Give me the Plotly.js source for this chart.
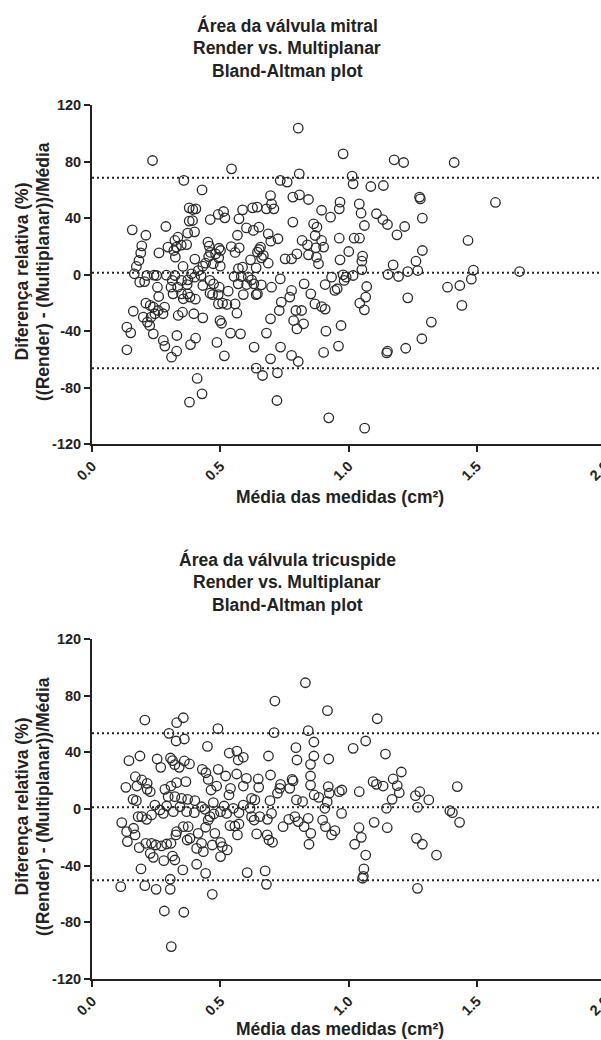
<!DOCTYPE html>
<html>
<head>
<meta charset="utf-8">
<script src="https://cdn.plot.ly/plotly-3.0.1.min.js"></script>
<style>
html, body { margin: 0; padding: 0; overflow: hidden; background: #fff; }
#chart { width: 612px; height: 1040px; }
</style>
</head>
<body>
<div id="chart"></div>
<script>
// ---- Data: Área da válvula mitral ----
const mitralAvg = [0.236,0.544,0.358,0.734,0.761,0.808,0.429,0.696,0.783,0.809,0.844,0.895,0.930,0.379,0.393,0.405,0.626,0.644,0.680,0.700,0.709,0.513,0.492,0.518,0.461,0.587,0.573,0.157,0.210,0.288,0.379,0.392,0.373,0.400,0.335,0.323,0.348,0.329,0.319,0.325,0.296,0.369,0.602,0.629,0.651,0.567,0.687,0.725,0.697,0.783,0.819,0.864,0.877,0.870,0.895,0.903,0.840,0.873,0.799,0.844,0.875,0.883,0.778,0.753,0.194,0.190,0.261,0.183,0.173,0.165,0.186,0.205,0.214,0.242,0.252,0.255,0.260,0.290,0.323,0.452,0.457,0.495,0.501,0.462,0.482,0.494,0.455,0.401,0.443,0.473,0.500,0.432,0.414,0.388,0.425,0.400,0.374,0.371,0.355,0.349,0.334,0.313,0.308,0.316,0.349,0.373,0.382,0.403,0.356,0.460,0.432,0.474,0.496,0.460,0.470,0.492,0.531,0.509,0.526,0.493,0.543,0.574,0.558,0.618,0.657,0.652,0.645,0.661,0.668,0.687,0.640,0.587,0.571,0.554,0.582,0.609,0.622,0.631,0.660,0.640,0.645,0.603,0.570,0.590,0.558,0.565,0.700,0.734,0.778,0.771,0.738,0.730,0.696,0.795,0.817,0.786,0.825,0.799,0.827,0.853,0.869,0.895,0.909,0.909,0.934,0.210,0.227,0.239,0.230,0.245,0.258,0.277,0.283,0.200,0.216,0.225,0.239,0.161,0.136,0.151,0.136,0.278,0.284,0.331,0.330,0.310,0.353,0.336,0.397,0.432,0.499,0.505,0.404,0.384,0.487,0.516,0.540,0.579,0.632,0.680,0.696,0.735,0.778,0.804,0.903,0.912,0.640,0.665,0.723,0.410,0.380,0.429,0.721,0.979,1.178,1.215,1.412,1.014,1.018,1.087,1.136,1.277,1.280,1.573,0.967,0.964,1.042,1.049,1.109,1.134,1.152,1.062,1.219,1.288,1.189,0.964,1.022,1.043,1.466,1.001,0.967,1.055,1.052,1.288,1.174,1.263,1.052,1.231,1.270,1.154,1.195,1.487,1.479,1.667,1.386,1.434,1.442,0.979,1.018,0.991,0.983,0.947,0.956,1.071,1.067,1.044,1.062,1.231,0.971,1.323,1.286,0.961,1.152,1.149,1.223,0.804,0.923,1.063];
const mitralDiff = [80.7,74.8,66.6,66.6,65.4,71.3,59.9,55.9,54.8,56.4,53.1,45.5,40.6,47.2,46.0,46.5,47.2,47.7,46.5,50.0,46.5,44.6,42.5,40.1,38.9,45.8,39.4,31.6,27.8,34.0,37.8,38.2,29.3,30.2,26.4,24.1,20.8,19.4,17.0,12.3,19.4,21.2,33.0,31.2,33.5,27.8,28.8,25.3,23.6,37.1,24.1,35.9,33.5,27.6,24.1,19.4,21.0,18.9,14.6,13.9,12.3,7.6,11.1,11.1,20.3,15.3,15.3,9.9,5.7,0.5,-5.4,-5.0,-0.7,-0.5,-0.7,-9.0,-15.6,-0.5,-0.7,22.9,20.1,18.6,17.0,15.6,14.6,11.8,12.7,10.9,8.0,7.6,5.9,5.9,2.8,0.5,-0.7,-1.9,-3.8,-7.1,5.7,-4.2,-9.0,-4.2,-9.0,-13.7,-13.7,-13.7,-16.0,-17.5,-17.2,-4.2,-7.8,-6.6,-9.0,-13.2,-14.2,-14.2,-11.8,-20.3,-21.2,-20.8,19.8,18.9,15.6,10.4,19.4,17.7,15.8,11.8,13.5,8.0,4.7,5.2,4.2,-1.4,-1.4,-1.9,-3.8,-6.6,-7.3,-14.2,-13.7,-7.1,-6.6,-14.2,-20.8,-27.4,-9.0,-3.1,-11.3,-16.0,-19.6,-25.5,-31.4,-25.5,-25.5,-32.6,-34.9,-38.5,-6.6,-13.7,-20.8,-22.7,-24.5,-7.1,-1.9,-20.3,-21.9,-23.1,-30.2,-27.8,-25.5,-27.8,-23.1,-30.2,-33.7,-36.1,-42.0,-26.0,-37.3,-41.3,-53.3,-46.7,-50.7,-43.2,-54.3,-58.5,-26.7,-29.0,-27.8,-30.7,-32.6,-34.5,-45.1,-49.6,-48.1,-57.6,-41.5,-42.0,-51.4,-41.5,-59.7,-51.4,-57.3,-61.6,-55.2,-40.1,-66.3,-71.5,-69.6,-73.6,-90.4,-84.5,-89.2,85.4,81.2,79.3,79.3,69.6,64.2,62.3,63.0,54.8,53.5,51.0,51.2,46.5,50.0,43.4,43.0,38.9,35.4,34.7,34.0,39.9,28.1,25.7,25.7,25.7,24.1,16.3,10.4,13.0,9.4,17.0,6.8,9.4,3.5,2.1,2.8,0.0,-1.4,3.1,-3.3,2.1,-9.0,-7.8,-21.9,-0.2,-0.7,-1.9,-4.2,-11.3,-10.1,-8.5,-16.0,-20.3,-25.0,-16.5,-36.1,-33.7,-45.5,-50.7,-54.3,-55.5,-52.2,103.6,-101.5,-108.8];
// bias and limits of agreement: [upper, mean, lower]
const mitralLimits = [68.5, 1.2, -66.3];

// ---- Data: Área da válvula tricuspide ----
const tricAvg = [0.832,0.713,0.918,0.206,0.330,0.356,0.491,0.300,0.710,0.843,0.328,0.360,0.450,0.865,0.795,0.535,0.565,0.570,0.590,0.688,0.799,0.865,0.923,0.852,0.144,0.187,0.254,0.268,0.306,0.314,0.323,0.340,0.360,0.380,0.169,0.132,0.175,0.194,0.215,0.215,0.160,0.173,0.227,0.284,0.308,0.330,0.366,0.297,0.323,0.349,0.373,0.430,0.444,0.453,0.464,0.486,0.492,0.521,0.540,0.534,0.564,0.590,0.602,0.648,0.650,0.696,0.694,0.735,0.732,0.723,0.771,0.780,0.784,0.821,0.797,0.852,0.852,0.866,0.884,0.921,0.925,0.917,0.908,0.401,0.427,0.473,0.515,0.590,0.616,0.622,0.635,0.245,0.265,0.232,0.213,0.194,0.180,0.278,0.291,0.317,0.343,0.369,0.399,0.440,0.460,0.475,0.501,0.525,0.551,0.573,0.622,0.632,0.654,0.684,0.700,0.745,0.767,0.791,0.804,0.827,0.843,0.853,0.846,0.899,0.910,0.934,0.116,0.135,0.162,0.168,0.138,0.184,0.210,0.232,0.249,0.271,0.291,0.308,0.227,0.239,0.280,0.314,0.323,0.330,0.327,0.375,0.371,0.356,0.382,0.408,0.427,0.434,0.414,0.443,0.453,0.479,0.469,0.501,0.508,0.501,0.527,0.538,0.557,0.573,0.567,0.642,0.683,0.690,0.704,0.408,0.443,0.191,0.354,0.605,0.675,0.305,0.680,0.112,0.206,0.250,0.305,0.469,0.282,0.358,0.309,1.112,1.018,1.067,1.144,1.206,1.174,1.190,1.198,1.170,1.096,1.109,1.135,1.042,0.974,0.964,1.261,1.278,1.313,1.424,1.269,1.148,1.395,1.405,1.433,1.100,1.151,1.041,1.050,1.024,1.067,1.060,1.055,1.058,1.265,1.288,1.343,1.269,0.973,0.947];
const tricDiff = [89.1,76.2,69.4,62.8,60.9,64.4,56.7,53.4,53.9,55.3,48.0,49.4,44.2,47.3,43.3,39.5,40.9,34.6,36.5,37.4,34.6,37.4,35.3,31.5,34.1,37.4,35.3,29.4,36.0,34.1,31.3,29.4,33.9,31.8,22.8,15.3,16.2,20.5,18.1,13.9,6.8,5.9,12.2,13.9,16.2,18.6,19.3,8.7,8.7,7.5,6.8,28.0,25.6,20.9,13.4,16.2,28.0,23.3,14.6,9.9,24.7,16.2,21.6,21.2,15.3,24.0,5.9,17.4,14.6,11.1,14.6,20.9,19.8,5.2,6.4,23.3,16.9,9.9,8.2,15.8,11.1,5.2,0.5,5.9,1.6,4.5,2.1,2.8,0.5,7.5,6.4,2.8,-0.7,-4.2,-7.3,-5.4,-5.4,-3.1,2.1,-1.9,1.6,-1.9,-2.6,-0.2,-5.4,-3.5,-1.9,-3.1,0.5,-2.6,-5.4,-7.8,-5.4,-7.3,-3.1,-12.5,-7.3,-5.4,-8.9,-12.5,-6.6,-17.2,-24.9,-7.8,-12.5,-18.3,-9.6,-16.0,-13.6,-18.3,-23.0,-27.3,-24.2,-24.2,-25.4,-26.1,-24.7,-24.2,-31.3,-34.1,-36.5,-33.2,-36.0,-16.0,-18.3,-12.5,-21.9,-12.5,-20.7,-27.8,-24.2,-30.1,-17.2,-12.9,-7.8,-17.2,-25.4,-23.5,-26.6,-33.6,-28.9,-11.8,-12.0,-10.6,-18.3,-17.6,-18.3,-21.9,-23.5,-39.0,-45.4,-42.3,-43.0,-44.9,-43.7,-49.6,-53.2,-54.8,-54.1,-56.7,-56.7,-60.2,-72.0,-72.9,-97.1,63.7,42.8,48.0,38.8,26.1,21.2,16.5,11.5,6.8,19.3,17.4,16.2,12.2,13.4,12.2,9.4,12.2,6.4,15.8,1.2,0.5,-1.2,-2.6,-9.4,-9.4,-13.2,-13.2,-20.0,-24.9,-32.5,-42.3,-48.9,-47.5,-20.7,-24.9,-32.5,-56.0,-3.1,-15.3];
const tricLimits = [53.4, 1.2, -50.3];

// ---- Tick labels and text ----
const xTickVals = [0, 0.5, 1.0, 1.5, 2.0];
const xTickLabels = ["0.0", "0.5", "1.0", "1.5", "2.0"];
const yTickVals = [-120, -80, -40, 0, 40, 80, 120];
const yTickLabels = ["-120", "-80", "-40", "0", "40", "80", "120"];
const xRange = [0, 2.0];
const yRange = [-120, 120];
const titleMitral = ["Área da válvula mitral", "Render vs. Multiplanar", "Bland-Altman plot"];
const titleTric = ["Área da válvula tricuspide", "Render vs. Multiplanar", "Bland-Altman plot"];
const xTitle = "Média das medidas (cm²)";
const yTitle1 = "Diferença relativa (%)";
const yTitle2 = "((Render) - (Multiplanar))/Média";

// ---- Figure ----
const W = 612, H = 1040, ML = 92, MR = 7;
const FONT = "'Liberation Sans', Arial, sans-serif";
const INK = "#222";
const px2x = p => (p - ML) / (W - ML - MR);
const py2y = p => 1 - p / H;

function markers(x, y, xa, ya) {
  return { type: "scatter", mode: "markers", x: x, y: y, xaxis: xa, yaxis: ya,
    marker: { symbol: "circle-open", size: 9.5, color: "#2a2a2a", line: { width: 1.3 } },
    hoverinfo: "x+y", showlegend: false };
}
function limitLines(lims, xa, ya) {
  return lims.map(v => ({ type: "scatter", mode: "lines", x: [xRange[0], xRange[1]], y: [v, v],
    xaxis: xa, yaxis: ya, line: { color: INK, width: 2, dash: "2px,3px" }, hoverinfo: "skip", showlegend: false }));
}

const traces = [
  ...limitLines(mitralLimits, "x", "y"),
  markers(mitralAvg, mitralDiff, "x", "y"),
  ...limitLines(tricLimits, "x2", "y2"),
  markers(tricAvg, tricDiff, "x2", "y2")
];

function xAxis(anchor) {
  return { anchor: anchor, domain: [0, 1], range: xRange, tickvals: xTickVals, ticktext: xTickLabels,
    tickangle: -45, ticks: "outside", ticklen: 6, tickwidth: 2, tickcolor: INK, ticklabeloverflow: "allow",
    showline: true, linewidth: 2, linecolor: INK, showgrid: false, zeroline: false,
    tickfont: { family: FONT, size: 14.5, color: INK, weight: "bold" } };
}
function yAxis(anchor, top, bottom) {
  return { anchor: anchor, domain: [py2y(bottom), py2y(top)], range: yRange, tickvals: yTickVals, ticktext: yTickLabels,
    ticks: "outside", ticklen: 6, tickwidth: 2, tickcolor: INK,
    showline: true, linewidth: 2, linecolor: INK, showgrid: false, zeroline: false,
    tickfont: { family: FONT, size: 14.5, color: INK, weight: "bold" } };
}

function titleAnns(lines, yStart) {
  return lines.map((t, i) => ({ text: t, xref: "paper", yref: "paper", x: px2x(287), y: py2y(yStart + 23 * i),
    xanchor: "center", yanchor: "middle", showarrow: false,
    font: { family: FONT, size: 17.5, color: INK, weight: "bold" } }));
}
function axisAnns(xTitleY, yCenter) {
  const f = { family: FONT, size: 17.5, color: INK, weight: "bold" };
  return [
    { text: xTitle, xref: "paper", yref: "paper", x: px2x(340), y: py2y(xTitleY), xanchor: "center", yanchor: "middle", showarrow: false, font: f },
    { text: yTitle1, xref: "paper", yref: "paper", x: px2x(21.5), y: py2y(yCenter), xanchor: "center", yanchor: "middle", textangle: -90, showarrow: false, font: f },
    { text: yTitle2, xref: "paper", yref: "paper", x: px2x(43), y: py2y(yCenter), xanchor: "center", yanchor: "middle", textangle: -90, showarrow: false, font: f }
  ];
}

const layout = {
  width: W, height: H,
  margin: { l: ML, r: MR, t: 0, b: 0, pad: 0 },
  paper_bgcolor: "#fff", plot_bgcolor: "#fff",
  font: { family: FONT, color: INK },
  xaxis: xAxis("y"), yaxis: yAxis("x", 105, 444),
  xaxis2: xAxis("y2"), yaxis2: yAxis("x2", 639, 979),
  annotations: [
    ...titleAnns(titleMitral, 25),
    ...titleAnns(titleTric, 559),
    ...axisAnns(497, 272),
    ...axisAnns(1029, 807)
  ],
  showlegend: false
};

Plotly.newPlot("chart", traces, layout, { staticPlot: true, displayModeBar: false });
</script>
</body>
</html>
